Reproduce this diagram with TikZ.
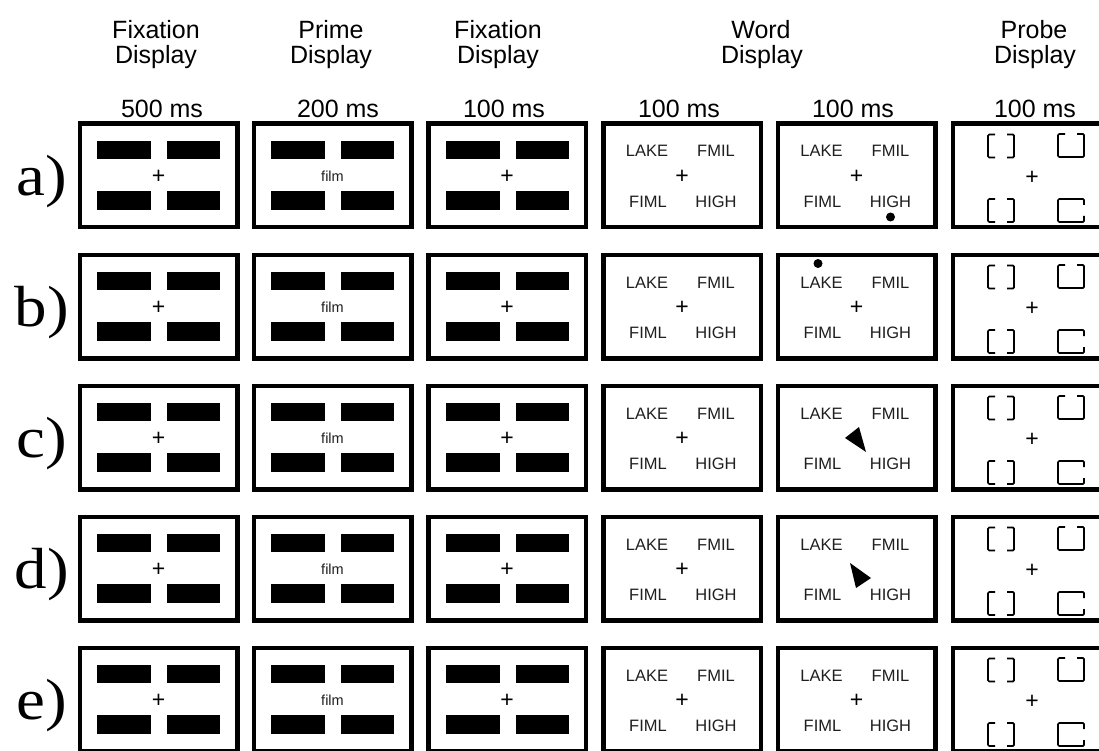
\documentclass[tikz,border=0pt]{standalone}
\usepackage{fontspec}
\setmainfont{Liberation Sans}
\newfontfamily\labserif{Liberation Serif}
\begin{document}
\begin{tikzpicture}[x=1pt,y=-1pt,
  frame/.style={draw=black, line width=4.5pt, fill=white, minimum width=157.5pt, minimum height=103.5pt, inner sep=0pt},
  bar/.style={fill=black},
  hdr/.style={font=\fontsize{25}{28}\selectfont, anchor=base, inner sep=0pt},
  wrd/.style={font=\fontsize{16.5}{18}\selectfont, anchor=base, inner sep=0pt, text=black!88},
  plusmark/.style={font=\fontsize{23}{23}\selectfont, inner sep=0pt},
  filmtxt/.style={font=\fontsize{14.5}{16}\selectfont, inner sep=0pt, text=black!88},
  probeline/.style={line width=1.7pt, rounded corners=1.2pt},
  lbl/.style={font=\labserif\fontsize{58}{60}\selectfont, anchor=base, inner sep=0pt, xscale=1.12},
  cuedot/.style={circle, fill=black, minimum size=9pt, inner sep=0pt}]
\clip (0,0) rectangle (1099,751);
\fill[white] (0,0) rectangle (1099,751);
% headers
\node[hdr] (h1a) at (156,38.5) {Fixation};
\node[hdr] (h1b) at (156,64) {Display};
\node[hdr] (t1) at (162,117.5) {500 ms};
\node[hdr] (h2a) at (331,38.5) {Prime};
\node[hdr] (h2b) at (331,64) {Display};
\node[hdr] (t2) at (338,117.5) {200 ms};
\node[hdr] (h3a) at (498,38.5) {Fixation};
\node[hdr] (h3b) at (498,64) {Display};
\node[hdr] (t3) at (504,117.5) {100 ms};
\node[hdr] (h4a) at (761,38.5) {Word};
\node[hdr] (h4b) at (762,64) {Display};
\node[hdr] (t4) at (679,117.5) {100 ms};
\node[hdr] (t5) at (853,117.5) {100 ms};
\node[hdr] (h6a) at (1034,38.5) {Probe};
\node[hdr] (h6b) at (1035,64) {Display};
\node[hdr] (t6) at (1035,117.5) {100 ms};
\foreach \r/\cy in {a/175.5, b/306.5, c/437.5, d/568.5, e/699.5}{
  \node[lbl] (lab-\r) at (42,\cy+20) {\r)};
  \foreach \c/\cx in {1/158.5, 2/332.5, 3/507, 4/682, 5/856.5, 6/1031.5}{
    \node[frame] (box-\r-\c) at (\cx,\cy) {};
  }
  % fixation and prime displays
  \foreach \c/\cx in {1/158.5, 2/332.5, 3/507}{
    \begin{scope}[shift={(\cx,\cy)}]
      \fill[bar] (-61.5,-34.5) rectangle (-7.5,-16.5);
      \fill[bar] (8.5,-34.5) rectangle (61.5,-16.5);
      \fill[bar] (-61.5,15.5) rectangle (-7.5,34.5);
      \fill[bar] (8.5,15.5) rectangle (61.5,34.5);
    \end{scope}
  }
  \node[plusmark] (fx1-\r) at (158.5,\cy+1.5) {+};
  \node[filmtxt] (film-\r) at (332.5,\cy+1) {film};
  \node[plusmark] (fx3-\r) at (507,\cy+1.5) {+};
  % word displays
  \foreach \c/\cx in {4/682, 5/856.5}{
    \node[wrd] (lake-\r-\c) at (\cx-35,\cy-18.5) {LAKE};
    \node[wrd] (fmil-\r-\c) at (\cx+34,\cy-18.5) {FMIL};
    \node[wrd] (fiml-\r-\c) at (\cx-34,\cy+32) {FIML};
    \node[wrd] (high-\r-\c) at (\cx+34,\cy+32) {HIGH};
  }
  \node[plusmark] (wp4-\r) at (682,\cy+1.5) {+};
  % probe display
  \node[plusmark] (pp-\r) at (1032,\cy+2.5) {+};
  \begin{scope}[shift={(1031.5,\cy)}]
    \draw[probeline] (-36.5,-41) -- (-43.5,-41) -- (-43.5,-18) -- (-36.5,-18);
    \draw[probeline] (-24.5,-41) -- (-17.5,-41) -- (-17.5,-18) -- (-24.5,-18);
    \draw[probeline] (33.5,-41.5) -- (26.5,-41.5) -- (26.5,-18.5) -- (52.5,-18.5) -- (52.5,-41.5) -- (45.5,-41.5);
    \draw[probeline] (-36.5,23.5) -- (-43.5,23.5) -- (-43.5,46.5) -- (-36.5,46.5);
    \draw[probeline] (-24.5,23.5) -- (-17.5,23.5) -- (-17.5,46.5) -- (-24.5,46.5);
    \draw[probeline] (52.5,29.5) -- (52.5,23.5) -- (26.5,23.5) -- (26.5,46.5) -- (52.5,46.5) -- (52.5,40.5);
  \end{scope}
}
% cue displays (second word display)
\node[plusmark] (wp5-a) at (856.5,177) {+};
\node[cuedot] (cue-a) at (890.5,217) {};
\node[plusmark] (wp5-b) at (856.5,308) {+};
\node[cuedot] (cue-b) at (818,263.5) {};
\fill (845,438) -- (859,427) -- (866,452) -- cycle;
\fill (850,563) -- (871,578) -- (856,588) -- cycle;
\node[plusmark] (wp5-e) at (856.5,701) {+};
\end{tikzpicture}
\end{document}
